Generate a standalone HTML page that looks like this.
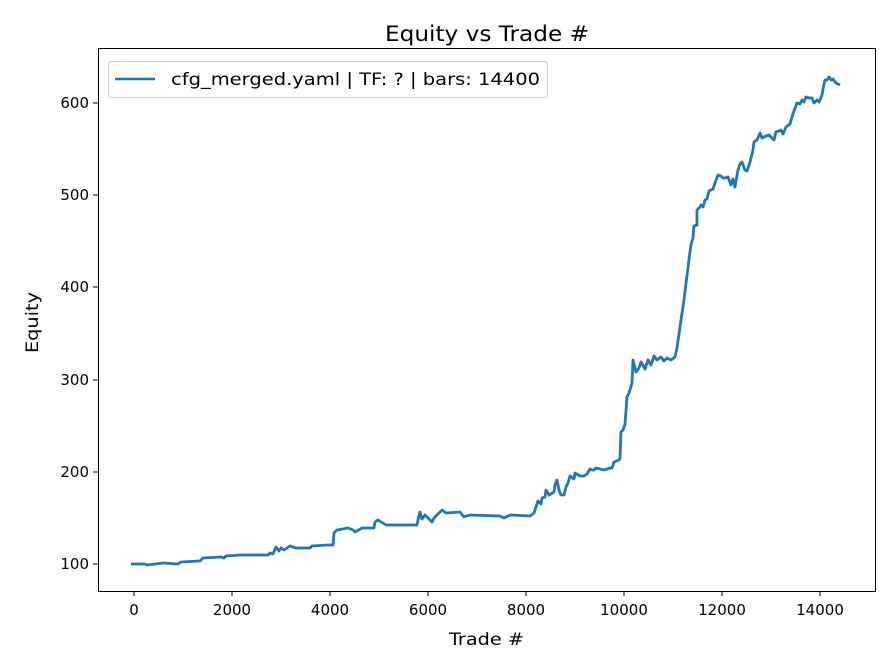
<!DOCTYPE html>
<html><head><meta charset="utf-8"><style>body{margin:0;background:#fff}svg{display:block}text{font-family:"DejaVu Sans","Liberation Sans",sans-serif;fill:#000}</style></head>
<body>
<svg width="896" height="672" viewBox="0 0 896 672">
<rect width="896" height="672" fill="#fff"/>
<text x="385" y="41" font-size="21" textLength="204" lengthAdjust="spacingAndGlyphs">Equity vs Trade #</text>
<polyline fill="none" stroke="#1f77b4" stroke-width="2.8" stroke-linejoin="round" points="131,564 145,564 147,565 163,563 178,564 181,562 200,561 203,558 221,557 224,558 226,556 240,555 268,555 270,553 273,554 276,547 279,551 281,548 284,550 290,546 296,548 310,548 312,546 328,545 333,545 334,533 337,530 348,528 353,530 355,532 362,528 374,528 375,522 378,520 386,525 417,525 418,520 420,512 422,519 425,515 432,522 434,518 442,510 446,513 460,512 464,517 466,516 470,515 500,516 504,518 508,516 511,515 530,516 534,513 536,507 538,501 541,504 542,498 545,497 546,490 549,495 554,492 555,485 557,480 559,490 561,495 564,495 566,487 568,483 570,476 574,479 575,473 580,476 584,476 587,474 590,469 592,470 594,470 596,468 600,469 604,470 610,468 612,468 614,462 619,460 620,458 621,432 623,430 625,424 627,397 629,393 630,390 632,383 633,360 636,372 639,368 641,362 645,369 648,360 651,365 654,356 657,360 661,357 664,361 667,358 671,360 675,357 677,348 680,327 681,320 684,300 686,283 688,268 689,259 691,245 693,238 694,226 697,225 697,210 700,207 701,205 703,207 705,200 707,199 709,191 713,189 715,183 718,175 721,176 723,178 725,178 728,177 731,185 733,179 735,187 738,170 740,164 742,162 745,170 747,171 750,162 753,150 754,142 757,140 760,133 762,138 766,136 769,135 772,138 774,140 776,132 779,131 781,130 783,134 786,127 790,124 792,117 794,111 797,103 800,104 802,100 804,102 806,97 809,98 812,98 814,103 817,100 819,102 820,100 822,95 823,89 825,80 827,80 829,77 831,80 833,79 836,83 840,85"/>
<rect x="98.5" y="48.5" width="777" height="543" fill="none" stroke="#000" stroke-width="1"/>
<g stroke="#000" stroke-width="1">
<line x1="134" y1="591" x2="134" y2="596"/><line x1="232" y1="591" x2="232" y2="596"/><line x1="330" y1="591" x2="330" y2="596"/><line x1="428" y1="591" x2="428" y2="596"/><line x1="526" y1="591" x2="526" y2="596"/><line x1="624" y1="591" x2="624" y2="596"/><line x1="722" y1="591" x2="722" y2="596"/><line x1="820" y1="591" x2="820" y2="596"/>
<line x1="93" y1="564" x2="98" y2="564"/><line x1="93" y1="472" x2="98" y2="472"/><line x1="93" y1="380" x2="98" y2="380"/><line x1="93" y1="287" x2="98" y2="287"/><line x1="93" y1="195" x2="98" y2="195"/><line x1="93" y1="103" x2="98" y2="103"/>
</g>
<g font-size="15" text-anchor="middle">
<text x="134" y="615">0</text><text x="232" y="615">2000</text><text x="330" y="615">4000</text><text x="428" y="615">6000</text><text x="526" y="615">8000</text><text x="624" y="615">10000</text><text x="722" y="615">12000</text><text x="820" y="615">14000</text>
</g>
<g font-size="15" text-anchor="end">
<text x="89" y="569">100</text><text x="89" y="477">200</text><text x="89" y="385">300</text><text x="89" y="292">400</text><text x="89" y="200">500</text><text x="89" y="108">600</text>
</g>
<text x="449" y="645" font-size="17" textLength="75" lengthAdjust="spacingAndGlyphs">Trade #</text>
<text transform="translate(38,353) rotate(-90)" font-size="17" textLength="61" lengthAdjust="spacingAndGlyphs">Equity</text>
<rect x="108.5" y="61.5" width="439" height="36" rx="3" fill="#fff" stroke="#ccc"/>
<line x1="115" y1="79" x2="155" y2="79" stroke="#1f77b4" stroke-width="2.6"/>
<text x="171" y="85" font-size="17" textLength="369" lengthAdjust="spacingAndGlyphs">cfg_merged.yaml | TF: ? | bars: 14400</text>
</svg>
</body></html>
